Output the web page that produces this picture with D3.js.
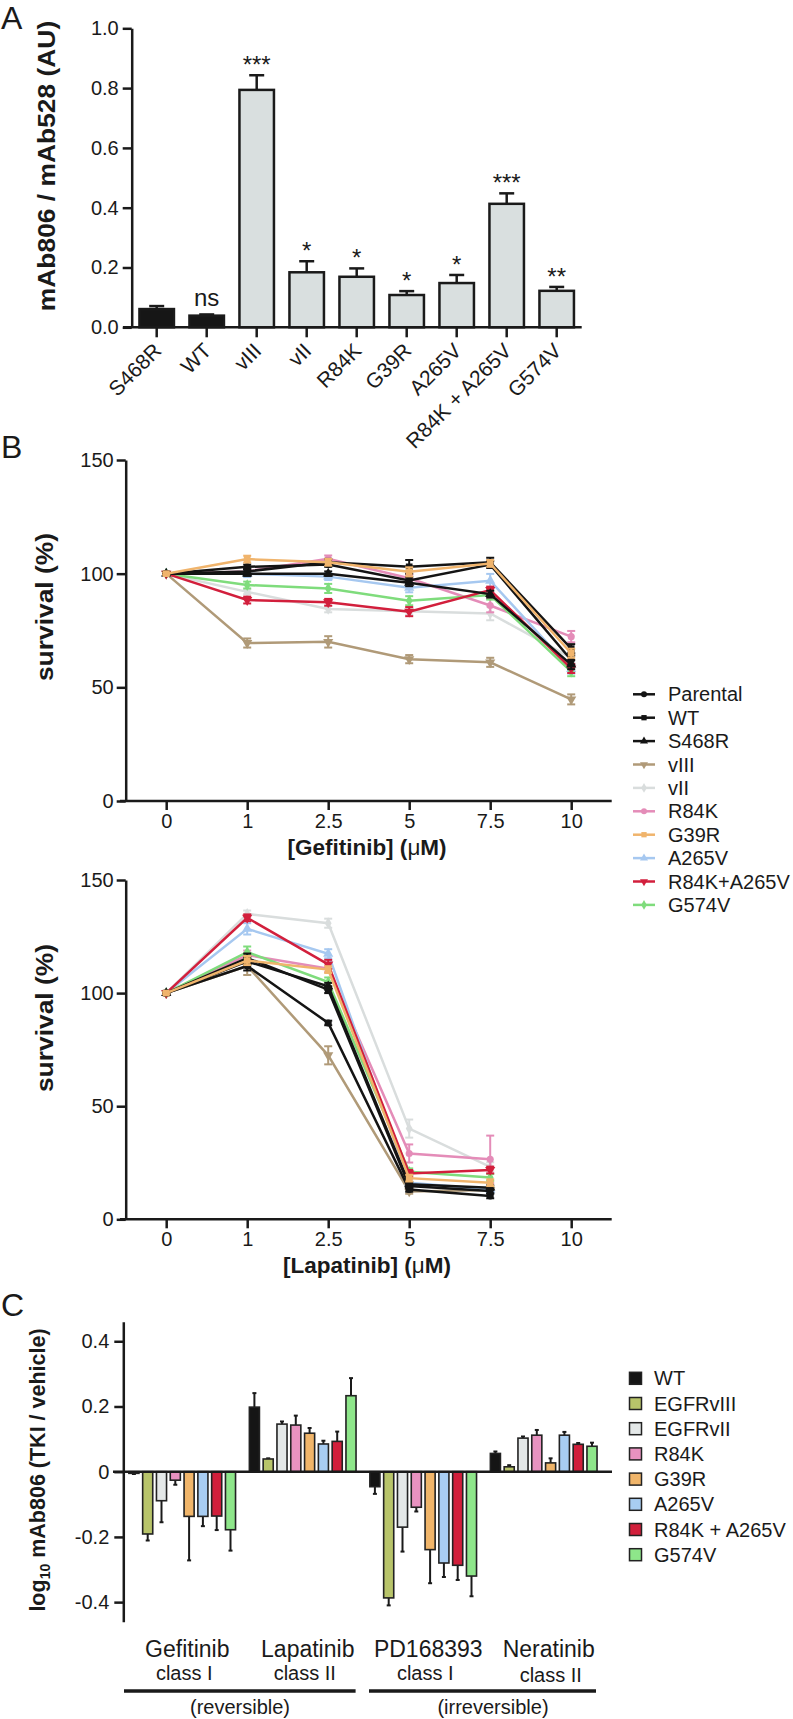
<!DOCTYPE html>
<html><head><meta charset="utf-8">
<script src="https://cdn.jsdelivr.net/npm/d3@7"></script>
<style>body{margin:0;background:#fff}</style>
</head><body><svg id="chart" width="793" height="1719"></svg>
<script>
// ---------------- DATA ----------------
// Panel A
const catsA = ["S468R","WT","vIII","vII","R84K","G39R","A265V","R84K + A265V","G574V"];
const valsA = [0.061,0.039,0.794,0.184,0.169,0.108,0.148,0.413,0.122];
const errA  = [0.010,0.004,0.049,0.037,0.028,0.013,0.027,0.035,0.013];
const sigA  = ["","ns","***","*","*","*","*","***","**"];
const ticksA = [0,0.2,0.4,0.6,0.8,1.0];

// Panel B
const dosesB = ["0","1","2.5","5","7.5","10"];
const seriesB = ["Parental","WT","S468R","vIII","vII","R84K","G39R","A265V","R84K+A265V","G574V"];
const colorsB = ["#141414","#141414","#141414","#b09a78","#d9dddd","#e48cb8","#f0b46c","#a6c8f0","#d21f3c","#7fdc7c"];
const symbolsB = ["circle","square","triangle","triDown","diamond","circle","square","triangle","triDown","diamond"];
const ticksB = [0,50,100,150];
// Gefitinib survival (%) at doses 0,1,2.5,5,7.5,10
const gefParental = [100,103,104,97,104,62];
const gefWT       = [100,101,105,103,105,67];
const gefS468R    = [100,100,100,96,91,60];
const gefVIII     = [100,69.5,70,62.4,61,44.7];
const gefVII      = [100,92,84.5,83.5,82.5,63];
const gefR84K     = [100,101,106.5,98,86,72.3];
const gefG39R     = [100,106.4,105,100.8,104.5,65];
const gefA265V    = [100,100,98.7,93.8,96.9,58];
const gefR84KA265V= [100,88.4,87.4,83.3,92.8,58.3];
const gefG574V    = [100,95,93.5,88.1,90.6,56.9];
const gefErrParental = [0.5,1,1,1.5,1.5,2];
const gefErrWT       = [0.5,1,1.5,3,2,2];
const gefErrS468R    = [0.5,1,1,1.5,1.5,2];
const gefErrVIII     = [0.5,2,2.5,1.8,2,2.2];
const gefErrVII      = [0.5,1,1.5,1.5,3,2];
const gefErrR84K     = [0.5,1,1.5,1.5,3,2.5];
const gefErrG39R     = [0.5,1.5,1.5,2,1.5,2];
const gefErrA265V    = [0.5,1.5,1.5,2,3,2];
const gefErrR84KA265V= [0.5,1.5,1.5,2,1.5,2];
const gefErrG574V    = [0.5,1.5,2,2,2,2];
// Lapatinib survival (%) at doses 0,1,2.5,5,7.5 (no 10)
const lapParental = [100,112,86.8,13.2,10.3];
const lapWT       = [100,115.5,101.5,14.7,12.5];
const lapS468R    = [100,114,103,15.5,14];
const lapVIII     = [100,112,72.5,12.3,13];
const lapVII      = [100,135,130.9,40.1,23.2];
const lapR84K     = [100,116.8,110.8,29.1,26.5];
const lapG39R     = [100,114.4,110.4,18.2,16.2];
const lapA265V    = [100,128.4,117.4,16.2,13.2];
const lapR84KA265V= [100,133.3,112.7,20.3,21.8];
const lapG574V    = [100,118.1,104.9,21,18.5];
const lapErrParental = [0.5,2,1,1,1];
const lapErrWT       = [0.5,2,1.5,1,1];
const lapErrS468R    = [0.5,2,1.5,1,1];
const lapErrVIII     = [0.5,4,4,1,1];
const lapErrVII      = [0.5,1.5,2,4,2];
const lapErrR84K     = [0.5,2,1.5,4,10.5];
const lapErrG39R     = [0.5,2,1.5,1.5,1.5];
const lapErrA265V    = [0.5,2.5,2,1.5,1.5];
const lapErrR84KA265V= [0.5,1.5,2,1.5,1.5];
const lapErrG574V    = [0.5,2.5,2,1.5,1.5];

// Panel C
const groupsC = ["Gefitinib","Lapatinib","PD168393","Neratinib"];
const classC  = ["class I","class II","class I","class II"];
const seriesC = ["WT","EGFRvIII","EGFRvII","R84K","G39R","A265V","R84K + A265V","G574V"];
const colorsC = ["#151515","#b8c46a","#e4e8e8","#e892c0","#f0b56a","#a8cdf2","#d11f3b","#8ee68a"];
const ticksC = [-0.4,-0.2,0,0.2,0.4];
const cWT      = [-0.005,0.198,-0.046,0.056];
const cVIII    = [-0.191,0.039,-0.387,0.015];
const cVII     = [-0.089,0.146,-0.170,0.103];
const cR84K    = [-0.026,0.143,-0.109,0.112];
const cG39R    = [-0.137,0.118,-0.239,0.027];
const cA265V   = [-0.137,0.085,-0.280,0.112];
const cR84KA265V=[-0.136,0.093,-0.287,0.084];
const cG574V   = [-0.178,0.233,-0.320,0.078];
const cErrWT      = [0.002,0.043,0.022,0.006];
const cErrVIII    = [0.020,0.002,0.023,0.005];
const cErrVII     = [0.066,0.008,0.075,0.005];
const cErrR84K    = [0.014,0.029,0.013,0.016];
const cErrG39R    = [0.135,0.016,0.103,0.014];
const cErrA265V   = [0.030,0.010,0.043,0.010];
const cErrR84KA265V=[0.043,0.030,0.045,0.004];
const cErrG574V   = [0.064,0.054,0.062,0.011];

// ---------------- DRAWING ----------------
const FONT = '"Liberation Sans", Arial, Helvetica, sans-serif';
const INK = "#1a1a1a";
const svg = d3.select("#chart").attr("font-family", FONT);
svg.append("rect").attr("width",793).attr("height",1719).attr("fill","#fff");

function styleAxis(g, fs){
  g.attr("font-family", FONT).attr("font-size", fs);
  g.select(".domain").attr("stroke",INK).attr("stroke-width",2.5);
  g.selectAll(".tick line").attr("stroke",INK).attr("stroke-width",2.5);
  g.selectAll(".tick text").attr("fill",INK);
}
function letter(t,x,y){
  svg.append("text").attr("x",x).attr("y",y).attr("font-size",32).attr("fill",INK).text(t);
}
function vTitle(x,y,fs,sx){
  return svg.append("text").attr("transform",`translate(${x},${y}) rotate(-90) scale(${sx},1)`)
    .attr("text-anchor","middle").attr("font-weight","bold").attr("font-size",fs).attr("fill",INK);
}

// ===== Panel A =====
letter("A",1,29);
const yA = d3.scaleLinear().domain([0,1]).range([327.3,28.3]);
const xA = d3.scaleBand().domain(catsA).range([131.7,581.7]).paddingInner(0.31).paddingOuter(0.155);
const gA = svg.append("g");
catsA.forEach((c,i)=>{
  const x = xA(c), w = xA.bandwidth(), cx = x + w/2;
  const top = yA(valsA[i] + errA[i]);
  gA.append("line").attr("x1",cx).attr("x2",cx).attr("y1",yA(valsA[i])).attr("y2",top)
    .attr("stroke",INK).attr("stroke-width",2.5);
  gA.append("line").attr("x1",cx-7.5).attr("x2",cx+7.5).attr("y1",top).attr("y2",top)
    .attr("stroke",INK).attr("stroke-width",2.5);
  gA.append("rect").attr("x",x).attr("y",yA(valsA[i])).attr("width",w)
    .attr("height",yA(0)-yA(valsA[i]))
    .attr("fill", i<2 ? "#161616" : "#d9dfdf").attr("stroke",INK).attr("stroke-width",2.5);
  if (sigA[i]) {
    const ns = sigA[i]==="ns";
    gA.append("text").attr("x",cx).attr("y", ns ? top-8 : top-2)
      .attr("text-anchor","middle").attr("font-size", 24).attr("fill",INK).text(sigA[i]);
  }
  gA.append("line").attr("x1",cx).attr("x2",cx).attr("y1",yA(0)).attr("y2",yA(0)+10)
    .attr("stroke",INK).attr("stroke-width",2.5);
  gA.append("text").attr("transform",`translate(${cx+6},352) rotate(-45)`)
    .attr("text-anchor","end").attr("font-size",21).attr("fill",INK).text(c);
});
gA.append("line").attr("x1",123).attr("x2",581.7).attr("y1",yA(0)).attr("y2",yA(0))
  .attr("stroke",INK).attr("stroke-width",2.5);
gA.append("g").attr("transform","translate(131.7,0)")
  .call(d3.axisLeft(yA).tickValues(ticksA).tickFormat(d3.format(".1f")).tickSize(9).tickPadding(4).tickSizeOuter(0))
  .call(g=>styleAxis(g,20));
vTitle(55,166,24,1.1).text("mAb806 / mAb528 (AU)");

// ===== Panel B =====
letter("B",1,458);
const symMap = {circle:d3.symbolCircle, square:d3.symbolSquare, triangle:d3.symbolTriangle, triDown:d3.symbolTriangle, diamond:d3.symbolDiamond};
const gefData = [gefParental,gefWT,gefS468R,gefVIII,gefVII,gefR84K,gefG39R,gefA265V,gefR84KA265V,gefG574V];
const gefErr  = [gefErrParental,gefErrWT,gefErrS468R,gefErrVIII,gefErrVII,gefErrR84K,gefErrG39R,gefErrA265V,gefErrR84KA265V,gefErrG574V];
const lapData = [lapParental,lapWT,lapS468R,lapVIII,lapVII,lapR84K,lapG39R,lapA265V,lapR84KA265V,lapG574V];
const lapErr  = [lapErrParental,lapErrWT,lapErrS468R,lapErrVIII,lapErrVII,lapErrR84K,lapErrG39R,lapErrA265V,lapErrR84KA265V,lapErrG574V];
const drawOrder = [4,3,5,7,9,8,2,0,1,6];

function survPanel(y0, y150, data, errs, xlabel, titleY){
  const x = d3.scalePoint().domain(dosesB).range([125.7,611.7]).padding(0.5);
  const y = d3.scaleLinear().domain([0,150]).range([y0,y150]);
  const g = svg.append("g");
  const line = d3.line().x((d,i)=>x(dosesB[i])).y(d=>y(d));
  drawOrder.forEach(si=>{
    const vals = data[si], er = errs[si], col = colorsB[si];
    g.append("path").attr("d",line(vals)).attr("fill","none").attr("stroke",col).attr("stroke-width",2.5);
    vals.forEach((v,i)=>{
      const cx = x(dosesB[i]);
      const a = y(v+er[i]), b = y(v-er[i]);
      g.append("line").attr("x1",cx).attr("x2",cx).attr("y1",a).attr("y2",b).attr("stroke",col).attr("stroke-width",2);
      [a,b].forEach(yy=>g.append("line").attr("x1",cx-4).attr("x2",cx+4).attr("y1",yy).attr("y2",yy).attr("stroke",col).attr("stroke-width",2));
      const sym = symbolsB[si];
      g.append("path").attr("d",d3.symbol(symMap[sym], sym==="circle"?40:sym==="diamond"?40:45)())
        .attr("transform",`translate(${cx},${y(v)})${sym==="triDown"?" rotate(180)":""}`)
        .attr("fill",col);
    });
  });
  const xa = svg.append("g").attr("transform",`translate(0,${y0})`)
    .call(d3.axisBottom(x).tickSize(9).tickPadding(4).tickSizeOuter(0)).call(gg=>styleAxis(gg,20));
  xa.select(".domain").remove();
  svg.append("line").attr("x1",120).attr("x2",611.7).attr("y1",y0).attr("y2",y0).attr("stroke",INK).attr("stroke-width",2.5);
  svg.append("g").attr("transform","translate(125.7,0)")
    .call(d3.axisLeft(y).tickValues(ticksB).tickSize(9).tickPadding(3).tickSizeOuter(0)).call(gg=>styleAxis(gg,20));
  const t = svg.append("text").attr("x",367).attr("y",y0+54).attr("text-anchor","middle")
    .attr("font-weight","bold").attr("font-size",22.5).attr("fill",INK);
  t.append("tspan").text(`[${xlabel}] (`);
  t.append("tspan").attr("font-weight","normal").text("\u03bc");
  t.append("tspan").text("M)");
  vTitle(53,titleY,24,1.1).text("survival (%)");
}
survPanel(801,460,gefData,gefErr,"Gefitinib",607);
survPanel(1219.3,880,lapData,lapErr,"Lapatinib",1018);

// Legend B
seriesB.forEach((s,i)=>{
  const cy = 694.3 + i*23.4, col = colorsB[i], sym = symbolsB[i];
  svg.append("line").attr("x1",633).attr("x2",655).attr("y1",cy).attr("y2",cy).attr("stroke",col).attr("stroke-width",2.5);
  svg.append("path").attr("d",d3.symbol(symMap[sym],28)())
    .attr("transform",`translate(644,${cy})${sym==="triDown"?" rotate(180)":""}`).attr("fill",col);
  svg.append("text").attr("x",668).attr("y",cy+7).attr("font-size",20).attr("fill",INK).text(s);
});

// ===== Panel C =====
letter("C",1,1316);
const cData = [cWT,cVIII,cVII,cR84K,cG39R,cA265V,cR84KA265V,cG574V];
const cErr  = [cErrWT,cErrVIII,cErrVII,cErrR84K,cErrG39R,cErrA265V,cErrR84KA265V,cErrG574V];
const yC = d3.scaleLinear().domain([-0.46,0.46]).range([1621.7,1321.7]);
const xG = d3.scaleBand().domain(groupsC).range([122,604]);
const xS = d3.scaleBand().domain(seriesC).range([5,115.4]).paddingInner(0.27).paddingOuter(0.135);
const gC = svg.append("g");
groupsC.forEach((grp,gi)=>{
  seriesC.forEach((s,si)=>{
    const v = cData[si][gi], e = cErr[si][gi];
    const x = xG(grp) + xS(s), w = xS.bandwidth(), cx = x + w/2;
    const tip = yC(v + Math.sign(v)*e);
    gC.append("line").attr("x1",cx).attr("x2",cx).attr("y1",yC(v)).attr("y2",tip).attr("stroke",INK).attr("stroke-width",2);
    gC.append("line").attr("x1",cx-2).attr("x2",cx+2).attr("y1",tip).attr("y2",tip).attr("stroke",INK).attr("stroke-width",2);
    gC.append("rect").attr("x",x).attr("y",Math.min(yC(v),yC(0))).attr("width",w)
      .attr("height",Math.abs(yC(v)-yC(0))).attr("fill",colorsC[si]).attr("stroke","#222").attr("stroke-width",1.6);
  });
  const gc = xG(grp) + xG.bandwidth()/2 + 5;
  svg.append("text").attr("x",gc).attr("y",1657).attr("text-anchor","middle").attr("font-size",23).attr("fill",INK).text(grp);
  svg.append("text").attr("x",gc - (gi===3?-2:3)).attr("y",gi===3?1682:1680).attr("text-anchor","middle").attr("font-size",20).attr("fill",INK).text(classC[gi]);
});
svg.append("line").attr("x1",113).attr("x2",612).attr("y1",yC(0)).attr("y2",yC(0)).attr("stroke",INK).attr("stroke-width",2.5);
svg.append("g").attr("transform","translate(123.3,0)")
  .call(d3.axisLeft(yC).tickValues(ticksC).tickFormat(v=>v===0?"0":v.toFixed(1)).tickSize(9).tickPadding(5).tickSizeOuter(0))
  .call(g=>styleAxis(g,20));
// group brackets
[[124,355.6,240,"(reversible)"],[369,596,493,"(irreversible)"]].forEach(b=>{
  svg.append("line").attr("x1",b[0]).attr("x2",b[1]).attr("y1",1691).attr("y2",1691).attr("stroke",INK).attr("stroke-width",3.5);
  svg.append("text").attr("x",b[2]).attr("y",1714).attr("text-anchor","middle").attr("font-size",20).attr("fill",INK).text(b[3]);
});
const tc = vTitle(45,1470,21.5,1.0);
tc.append("tspan").text("log");
tc.append("tspan").attr("font-size",14).attr("dy",5).text("10");
tc.append("tspan").attr("dy",-5).text(" mAb806 (TKI / vehicle)");
// Legend C
seriesC.forEach((s,i)=>{
  const cy = 1378.3 + i*25.2;
  svg.append("rect").attr("x",629.5).attr("y",cy-6).attr("width",12).attr("height",12)
    .attr("fill",colorsC[i]).attr("stroke","#222").attr("stroke-width",1.5);
  svg.append("text").attr("x",654).attr("y",cy+7).attr("font-size",20).attr("fill",INK).text(s);
});
</script></body></html>
